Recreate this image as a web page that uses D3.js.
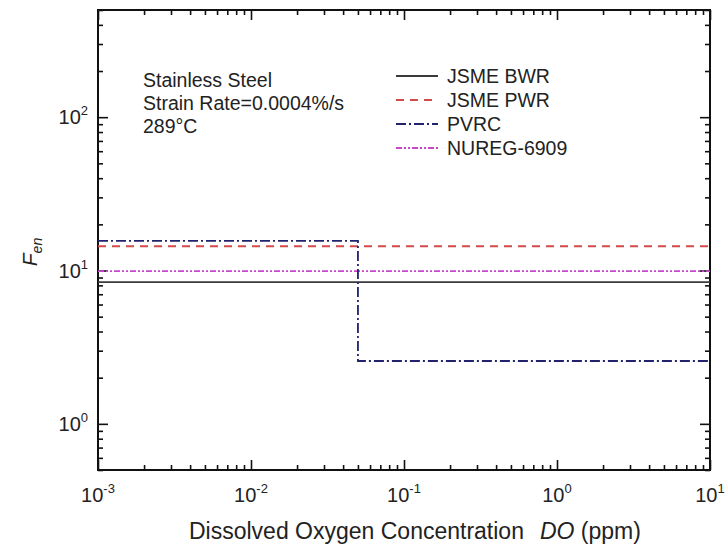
<!DOCTYPE html>
<html>
<head>
<meta charset="utf-8">
<script src="https://cdn.jsdelivr.net/npm/d3@7"></script>
<style>
  html, body { margin: 0; padding: 0; background: #fff; }
  svg { display: block; }
  text { font-family: "Liberation Sans", Arial, sans-serif; fill: #222; }
</style>
</head>
<body>
<div id="chart"></div>
<script>
// ---------------- data ----------------
const seriesNames = ["JSME BWR", "JSME PWR", "PVRC", "NUREG-6909"];
const bwrX = [0.001, 10];
const bwrY = [8.4, 8.4];
const pwrX = [0.001, 10];
const pwrY = [14.4, 14.4];
const pvrcX = [0.001, 0.05, 0.05, 10];
const pvrcY = [15.6, 15.6, 2.57, 2.57];
const nuregX = [0.001, 10];
const nuregY = [9.9, 9.9];

const xMajorTicks = [1e-3, 1e-2, 1e-1, 1, 10];
const xTickExponents = ["-3", "-2", "-1", "0", "1"];
const yMajorTicks = [1, 10, 100];
const yTickExponents = ["0", "1", "2"];
const xDomain = [1e-3, 10];
const yDomain = [0.5, 500];

const annotationLines = ["Stainless Steel", "Strain Rate=0.0004%/s", "289\u00B0C"];

// ---------------- layout ----------------
const W = 726, H = 544;
const m = { left: 98, right: 16, top: 10, bottom: 74 };
const iw = W - m.left - m.right, ih = H - m.top - m.bottom;

const svg = d3.select("#chart").append("svg").attr("width", W).attr("height", H);
const g = svg.append("g").attr("transform", `translate(${m.left},${m.top})`);

const x = d3.scaleLog().domain(xDomain).range([0, iw]);
const y = d3.scaleLog().domain(yDomain).range([ih, 0]);

function minorTicks(domain) {
  const out = [];
  const lo = Math.floor(Math.log10(domain[0])), hi = Math.ceil(Math.log10(domain[1]));
  for (let e = lo; e <= hi; e++) {
    for (let k = 2; k <= 9; k++) {
      const v = k * Math.pow(10, e);
      if (v >= domain[0] * 0.999 && v <= domain[1] * 1.001) out.push(v);
    }
  }
  return out;
}
const xMinor = minorTicks(xDomain);
const yMinor = minorTicks(yDomain);

const majorLen = 10, minorLen = 5;

function styleAxis(sel) {
  sel.select(".domain").remove();
  sel.selectAll(".tick line").attr("stroke", "#111").attr("stroke-width", 1.6);
  sel.selectAll(".tick text").remove();
}

// bottom / top axes (inward ticks)
g.append("g").attr("transform", `translate(0,${ih})`)
  .call(d3.axisBottom(x).tickValues(xMajorTicks).tickSize(-majorLen).tickFormat(() => "")).call(styleAxis);
g.append("g").attr("transform", `translate(0,${ih})`)
  .call(d3.axisBottom(x).tickValues(xMinor).tickSize(-minorLen).tickFormat(() => "")).call(styleAxis);
g.append("g")
  .call(d3.axisTop(x).tickValues(xMajorTicks).tickSize(-majorLen).tickFormat(() => "")).call(styleAxis);
g.append("g")
  .call(d3.axisTop(x).tickValues(xMinor).tickSize(-minorLen).tickFormat(() => "")).call(styleAxis);
// left / right axes
g.append("g")
  .call(d3.axisLeft(y).tickValues(yMajorTicks).tickSize(-majorLen).tickFormat(() => "")).call(styleAxis);
g.append("g")
  .call(d3.axisLeft(y).tickValues(yMinor).tickSize(-minorLen).tickFormat(() => "")).call(styleAxis);
g.append("g").attr("transform", `translate(${iw},0)`)
  .call(d3.axisRight(y).tickValues(yMajorTicks).tickSize(-majorLen).tickFormat(() => "")).call(styleAxis);
g.append("g").attr("transform", `translate(${iw},0)`)
  .call(d3.axisRight(y).tickValues(yMinor).tickSize(-minorLen).tickFormat(() => "")).call(styleAxis);

// frame
g.append("rect").attr("x", 0).attr("y", 0).attr("width", iw).attr("height", ih)
  .attr("fill", "none").attr("stroke", "#111").attr("stroke-width", 2);

// tick labels with superscripts
xMajorTicks.forEach((v, i) => {
  const t = g.append("text").attr("x", x(v)).attr("y", ih + 32)
    .attr("text-anchor", "middle").style("font-size", "20px");
  t.append("tspan").text("10");
  t.append("tspan").attr("dy", -9).style("font-size", "13px").text(xTickExponents[i]);
});
yMajorTicks.forEach((v, i) => {
  const t = g.append("text").attr("x", -10).attr("y", y(v) + 7)
    .attr("text-anchor", "end").style("font-size", "20px");
  t.append("tspan").text("10");
  t.append("tspan").attr("dy", -9).style("font-size", "13px").text(yTickExponents[i]);
});

// axis titles
const xt = svg.append("text").attr("x", 189).attr("y", 539)
  .attr("text-anchor", "start").style("font-size", "23px");
xt.append("tspan").text("Dissolved Oxygen Concentration");
xt.append("tspan").attr("dx", 16).style("font-style", "italic").text("DO");
xt.append("tspan").text(" (ppm)");

const yt = svg.append("text").attr("transform", `translate(37,252) rotate(-90)`)
  .attr("text-anchor", "middle").style("font-size", "21px");
yt.append("tspan").style("font-style", "italic").text("F");
yt.append("tspan").attr("dy", 5).style("font-size", "14px").style("font-style", "italic").text("en");

// series
const seriesDefs = [
  { name: seriesNames[0], xs: bwrX, ys: bwrY, color: "#3a3a3a", dash: null, w: 1.8 },
  { name: seriesNames[1], xs: pwrX, ys: pwrY, color: "#d24a4a", dash: "8,6", w: 1.8 },
  { name: seriesNames[2], xs: pvrcX, ys: pvrcY, color: "#22226e", dash: "10,3,2,3", w: 1.8 },
  { name: seriesNames[3], xs: nuregX, ys: nuregY, color: "#c848c8", dash: "6,2,2,2,2,2", w: 1.8 }
];
const line = d3.line().x(d => x(d[0])).y(d => y(d[1]));
// draw order: BWR, NUREG, PWR, PVRC
[0, 3, 1, 2].forEach(i => {
  const s = seriesDefs[i];
  g.append("path").datum(s.xs.map((xv, j) => [xv, s.ys[j]]))
    .attr("d", line).attr("fill", "none")
    .attr("stroke", s.color).attr("stroke-width", s.w)
    .attr("stroke-dasharray", s.dash);
});

// annotation
annotationLines.forEach((txt, i) => {
  svg.append("text").attr("x", 143).attr("y", 87 + i * 23).style("font-size", "19.5px").text(txt);
});

// legend
const lg = svg.append("g");
seriesDefs.forEach((s, i) => {
  const yy = 76 + i * 24;
  lg.append("line").attr("x1", 396).attr("x2", 438).attr("y1", yy).attr("y2", yy)
    .attr("stroke", s.color).attr("stroke-width", s.w).attr("stroke-dasharray", s.dash);
  lg.append("text").attr("x", 447).attr("y", yy + 7).style("font-size", "19.5px").text(s.name);
});
</script>
</body>
</html>
